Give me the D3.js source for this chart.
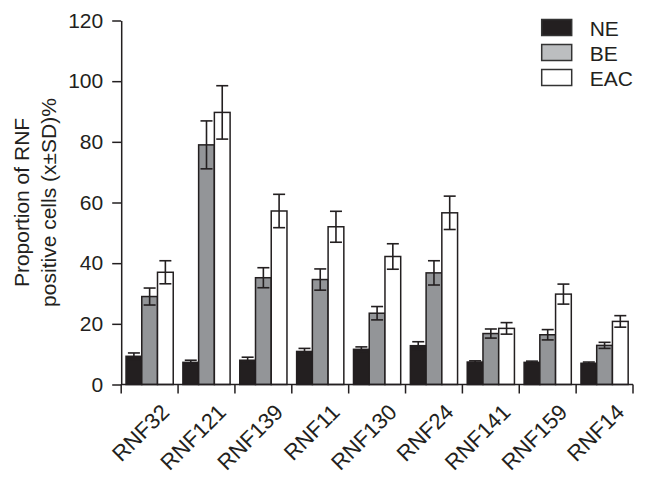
<!DOCTYPE html>
<html>
<head>
<meta charset="utf-8">
<script src="https://cdn.jsdelivr.net/npm/d3@7/dist/d3.min.js"></script>
<style>
  html, body { margin: 0; padding: 0; background: #fff; }
  svg text { font-family: "Liberation Sans", Arial, Helvetica, sans-serif; fill: #231f20; }
</style>
</head>
<body>
<svg id="chart" width="646" height="479"></svg>
<script>
const categories = ["RNF32","RNF121","RNF139","RNF11","RNF130","RNF24","RNF141","RNF159","RNF14"];
const seriesNames = ["NE","BE","EAC"];
const NE     = [9.3, 7.3, 8.0, 10.9, 11.6, 12.8, 7.4, 7.3, 7.0];
const NE_sd  = [1.1, 0.7, 1.0, 1.0, 0.8, 1.3, 0.4, 0.4, 0.4];
const BE     = [29.0, 79.0, 35.2, 34.6, 23.5, 36.8, 16.8, 16.4, 12.9];
const BE_sd  = [2.8, 7.9, 3.3, 3.5, 2.2, 4.0, 1.5, 1.7, 1.0];
const EAC    = [37.0, 89.7, 57.2, 52.0, 42.2, 56.6, 18.5, 29.8, 20.8];
const EAC_sd = [3.8, 8.8, 5.5, 5.1, 4.2, 5.5, 1.9, 3.3, 1.9];
const yTicks = [0, 20, 40, 60, 80, 100, 120];

const values = { NE: NE, BE: BE, EAC: EAC };
const sds = { NE: NE_sd, BE: BE_sd, EAC: EAC_sd };
const barFill = { NE: "#231f20", BE: "#939598", EAC: "#ffffff" };
const legendFill = { NE: "#231f20", BE: "#bcbec0", EAC: "#ffffff" };
const ink = "#231f20";

const svg = d3.select("#chart");
const mLeft = 121.2, mRight = 633, mTop = 20.5, mBottom = 384.5;

const y = d3.scaleLinear().domain([0, 120]).range([mBottom, mTop]);
const x0 = d3.scaleBand().domain(categories).range([mLeft, mRight]).paddingInner(0.17).paddingOuter(0.085);
const x1 = d3.scaleBand().domain(seriesNames).range([0, x0.bandwidth()]);

const rows = categories.map((c, i) => ({
  cat: c,
  bars: seriesNames.map(s => ({ s: s, v: values[s][i], sd: sds[s][i] }))
}));

const g = svg.append("g");
const groups = g.selectAll("g.grp").data(rows).join("g")
  .attr("class", "grp")
  .attr("transform", d => `translate(${x0(d.cat)},0)`);

groups.selectAll("rect").data(d => d.bars).join("rect")
  .attr("x", d => x1(d.s))
  .attr("y", d => y(d.v))
  .attr("width", x1.bandwidth())
  .attr("height", d => y(0) - y(d.v))
  .attr("fill", d => barFill[d.s])
  .attr("stroke", ink)
  .attr("stroke-width", 1.5);

// error bars
const capW = 12;
const eb = groups.selectAll("g.eb").data(d => d.bars).join("g").attr("class", "eb")
  .attr("stroke", ink).attr("stroke-width", 1.6).attr("fill", "none");
eb.append("line")
  .attr("x1", d => x1(d.s) + x1.bandwidth() / 2)
  .attr("x2", d => x1(d.s) + x1.bandwidth() / 2)
  .attr("y1", d => y(d.v + d.sd))
  .attr("y2", d => y(d.v - d.sd));
eb.append("line")
  .attr("x1", d => x1(d.s) + x1.bandwidth() / 2 - capW / 2)
  .attr("x2", d => x1(d.s) + x1.bandwidth() / 2 + capW / 2)
  .attr("y1", d => y(d.v + d.sd))
  .attr("y2", d => y(d.v + d.sd));
eb.append("line")
  .attr("x1", d => x1(d.s) + x1.bandwidth() / 2 - capW / 2)
  .attr("x2", d => x1(d.s) + x1.bandwidth() / 2 + capW / 2)
  .attr("y1", d => y(d.v - d.sd))
  .attr("y2", d => y(d.v - d.sd));

// Y axis
const yAxis = d3.axisLeft(y).tickValues(yTicks).tickSize(9).tickPadding(9).tickSizeOuter(0);
const ya = svg.append("g").attr("transform", `translate(${mLeft},0)`).call(yAxis);
ya.select(".domain").attr("stroke", ink).attr("stroke-width", 1.5);
ya.selectAll(".tick line").attr("stroke", ink).attr("stroke-width", 1.5);
ya.selectAll(".tick text").attr("font-size", 21).style("fill", ink);

// X axis line and ticks at group boundaries
const step = x0.step();
const bTicks = d3.range(categories.length + 1).map(i => mLeft + i * step);
svg.append("line").attr("x1", mLeft).attr("x2", mRight).attr("y1", mBottom).attr("y2", mBottom)
  .attr("stroke", ink).attr("stroke-width", 1.5);
svg.selectAll("line.xt").data(bTicks).join("line").attr("class", "xt")
  .attr("x1", d => d).attr("x2", d => d).attr("y1", mBottom).attr("y2", mBottom + 9)
  .attr("stroke", ink).attr("stroke-width", 1.5);

svg.selectAll("text.xl").data(categories).join("text").attr("class", "xl")
  .attr("text-anchor", "end")
  .attr("font-size", 22)
  .attr("transform", d => `translate(${x0(d) + x0.bandwidth() / 2 + 21},${mBottom + 29}) rotate(-45)`)
  .text(d => d);

// Y axis title
const yt = svg.append("text").attr("text-anchor", "middle").attr("font-size", 21)
  .attr("transform", `translate(29,${(mTop + mBottom) / 2}) rotate(-90)`);
yt.append("tspan").attr("x", 0).attr("y", 0).text("Proportion of RNF");
yt.append("tspan").attr("x", 0).attr("y", 27).text("positive cells (x\u00B1SD)%");

// Legend
const lg = svg.append("g").attr("transform", "translate(541.7,19.5)");
const li = lg.selectAll("g").data(seriesNames).join("g")
  .attr("transform", (d, i) => `translate(0,${i * 25})`);
li.append("rect").attr("width", 30).attr("height", 16)
  .attr("fill", d => legendFill[d]).attr("stroke", "#333").attr("stroke-width", 1.5);
li.append("text").attr("x", 48).attr("y", 16.5).attr("font-size", 21).text(d => d);
</script>
</body>
</html>
